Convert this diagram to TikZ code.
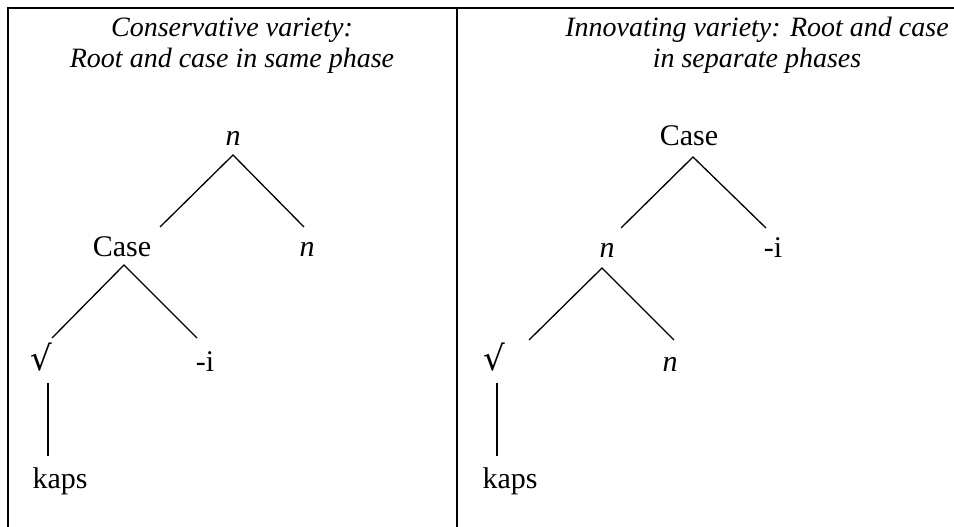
\documentclass[tikz,border=0pt]{standalone}
\usepackage{fontspec}
\setmainfont{Liberation Serif}
\newfontfamily\rootfont{DejaVu Serif}
\begin{document}
\begin{tikzpicture}[x=1pt,y=-1pt,
  lab/.style={anchor=base,inner sep=0pt,font=\fontsize{30}{34}\selectfont},
  rootlab/.style={anchor=base,inner sep=0pt,font=\fontsize{34}{38}\selectfont\rootfont},
  ttl/.style={anchor=base,inner sep=0pt,font=\fontsize{28}{31}\selectfont\itshape},
  edge/.style={line width=1.3pt},
  frame/.style={line width=1.8pt}]
\useasboundingbox (0,0) rectangle (954,527);
% frame
\coordinate (tl) at (8,8);
\coordinate (tr) at (960,8);
\coordinate (bl) at (8,530);
\coordinate (dt) at (457,8);
\coordinate (db) at (457,530);
\draw[frame] (bl) -- (tl) -- (tr);
\draw[frame] (dt) -- (db);
% titles
\node[ttl] (t1a) at (232,37) {Conservative variety:};
\node[ttl] (t1b) at (232,68) {Root and case in same phase};
\node[ttl] (t2a) at (757,37) {Innovating variety: Root and case};
\node[ttl] (t2b) at (757,68) {in separate phases};
% left tree
\node[lab] (nA) at (233,146) {\itshape n};
\node[lab] (caseA) at (122,256) {Case};
\node[lab] (nB) at (307,256) {\itshape n};
\node[rootlab] (rootA) at (41,370) {√};
\node[lab] (iA) at (205,371) {-i};
\node[lab] (kapsA) at (60,488) {kaps};
\coordinate (nA-d) at (233,155);
\coordinate (caseA-u) at (160,227);
\coordinate (nB-u) at (304,227);
\coordinate (caseA-d) at (124,265);
\coordinate (rootA-u) at (52,338);
\coordinate (iA-u) at (197,338);
\coordinate (rootA-d) at (48,383);
\coordinate (kapsA-u) at (48,456);
\draw[edge] (caseA-u) -- (nA-d) -- (nB-u);
\draw[edge] (rootA-u) -- (caseA-d) -- (iA-u);
\draw[edge] (rootA-d) -- (kapsA-u);
% right tree
\node[lab] (caseR) at (689,146) {Case};
\node[lab] (nR) at (607,257) {\itshape n};
\node[lab] (iR) at (773,257) {-i};
\node[rootlab] (rootR) at (494,370) {√};
\node[lab] (nR2) at (670,371) {\itshape n};
\node[lab] (kapsR) at (510,488) {kaps};
\coordinate (caseR-d) at (693,157);
\coordinate (nR-u) at (621,228);
\coordinate (iR-u) at (766,228);
\coordinate (nR-d) at (602,268);
\coordinate (rootR-u) at (529,340);
\coordinate (nR2-u) at (674,340);
\coordinate (rootR-d) at (497,383);
\coordinate (kapsR-u) at (497,456);
\draw[edge] (nR-u) -- (caseR-d) -- (iR-u);
\draw[edge] (rootR-u) -- (nR-d) -- (nR2-u);
\draw[edge] (rootR-d) -- (kapsR-u);
\end{tikzpicture}
\end{document}
